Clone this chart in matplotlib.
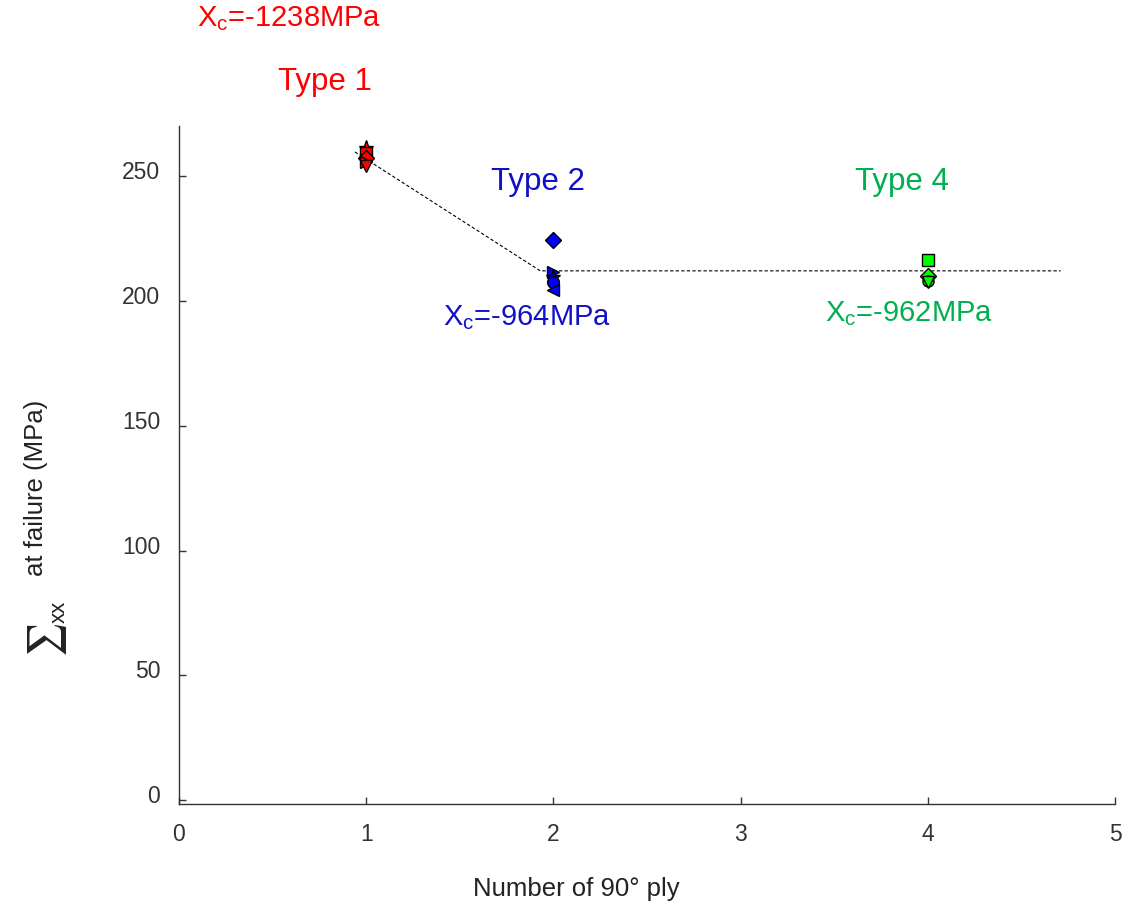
import matplotlib
matplotlib.use('Agg')
import matplotlib.pyplot as plt
import matplotlib.transforms as mtransforms

plt.rcParams['font.family'] = ['Liberation Sans', 'DejaVu Sans']
plt.rcParams['mathtext.fontset'] = 'custom'
plt.rcParams['mathtext.rm'] = 'Liberation Sans'
plt.rcParams['mathtext.it'] = 'Liberation Sans'

# Data
type1_x = 1
type1_vals = [261.0, 259.0, 257.0, 255.5, 254.0]
type2_x = 2
type2_vals = [224.5, 211.5, 209.5, 207.5, 204.5]
type4_x = 4
type4_vals = [216.5, 210.0, 208.0, 207.5]

# trend line (dashed)
trend_x = [0.94, 1.93, 4.71]
trend_y = [259.6, 212.0, 212.0]

x_ticks = [0, 1, 2, 3, 4, 5]
y_ticks = [0, 50, 100, 150, 200, 250]

# marker styles
type1_markers = ['*', 's', 'D', '>', 'v']
type2_markers = ['D', '>', '*', 'o', '<']
type4_markers = ['s', 'D', 'o', 'v']

red = '#ff0000'
blue = '#0000ff'
blue_txt = '#1010c8'
lime = '#00ff00'
green_txt = '#00b050'

fig = plt.figure(figsize=(11.3, 9.04), dpi=100)
ax = fig.add_axes([0.1584, 0.1095, 0.8283, 0.75])

ax.plot(trend_x, trend_y, color='black', linestyle=(0, (3, 2)), linewidth=0.8, zorder=2)

for v, m in zip(type1_vals, type1_markers):
    ax.plot(type1_x, v, marker=m, markersize=11 if m == '*' else 8.5, color=red,
            markeredgecolor='black', markeredgewidth=1, linestyle='none', zorder=3)
for v, m in zip(type2_vals, type2_markers):
    ax.plot(type2_x, v, marker=m, markersize=11 if m == '*' else 8.5, color=blue,
            markeredgecolor='black', markeredgewidth=1, linestyle='none', zorder=3)
for v, m in zip(type4_vals, type4_markers):
    ax.plot(type4_x, v, marker=m, markersize=8, color=lime,
            markeredgecolor='black', markeredgewidth=1, linestyle='none', zorder=3)

ax.set_xlim(0, 5)
ax.set_ylim(-1.5, 270)
ax.set_xticks(x_ticks)
ax.set_yticks(y_ticks)
ax.tick_params(direction='in', length=5, width=1, labelsize=16.5, colors='#333333')
ax.tick_params(axis='x', pad=13)
ax.tick_params(axis='y', pad=13.5)
ax.spines['top'].set_visible(False)
ax.spines['right'].set_visible(False)
for s in ['left', 'bottom']:
    ax.spines[s].set_color('#333333')
    ax.spines[s].set_linewidth(1)

offset = mtransforms.ScaledTranslation(0, 5 / 72, fig.dpi_scale_trans)
for lab in ax.get_yticklabels():
    lab.set_transform(lab.get_transform() + offset)

ax.set_xlabel('Number of 90° ply', fontsize=18.5, color='#222222')
ax.xaxis.set_label_coords(0.425, -0.106)

# y label: big summation sign + subscript + text
fig.text(36 / 1130, 1 - 488 / 904, 'at failure (MPa)', rotation=90,
         ha='center', va='center', fontsize=18.5, color='#222222')
fig.text(48 / 1130, 1 - 640 / 904, r'$\sum$', rotation=90, math_fontfamily='stix',
         ha='center', va='center', fontsize=27, color='#222222')
fig.text(59 / 1130, 1 - 612 / 904, 'xx', rotation=90,
         ha='center', va='center', fontsize=16, color='#222222')

# annotations
ax.text(0.59, 313.6, r'X$_\mathregular{c}$=-1238MPa', color=red, fontsize=21,
        ha='center', va='center', clip_on=False)
ax.text(0.78, 288, 'Type 1', color=red, fontsize=22.5, ha='center', va='center', clip_on=False)
ax.text(1.92, 248, 'Type 2', color=blue_txt, fontsize=22.5, ha='center', va='center')
ax.text(3.86, 248, 'Type 4', color=green_txt, fontsize=22.5, ha='center', va='center')
ax.text(1.86, 193.6, r'X$_\mathregular{c}$=-964MPa', color=blue_txt, fontsize=21,
        ha='center', va='center')
ax.text(3.90, 195.2, r'X$_\mathregular{c}$=-962MPa', color=green_txt, fontsize=21,
        ha='center', va='center')

fig.savefig('out.png', dpi=100)
